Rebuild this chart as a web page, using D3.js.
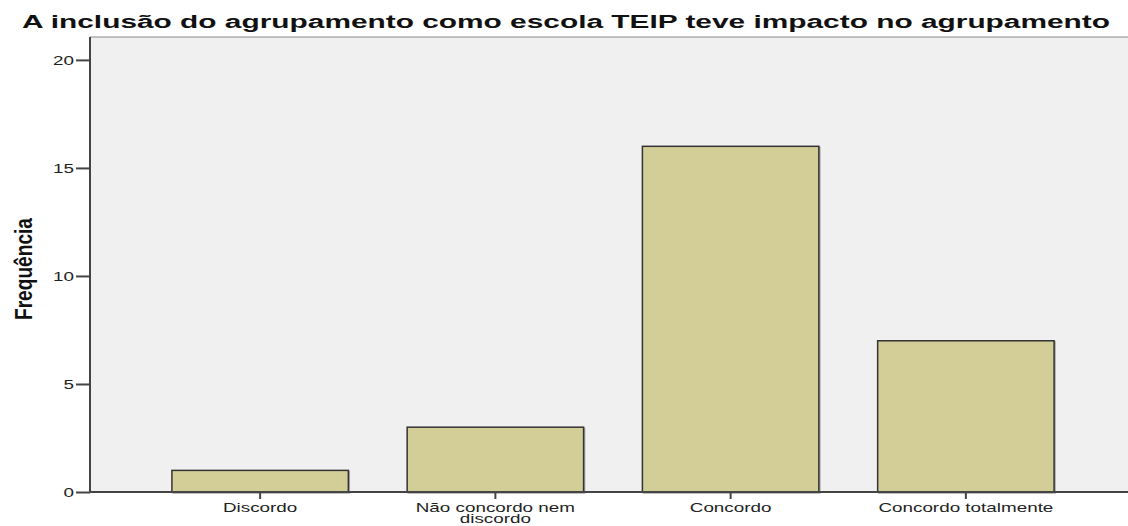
<!DOCTYPE html>
<html>
<head>
<meta charset="utf-8">
<script src="https://cdn.jsdelivr.net/npm/d3@7"></script>
<style>
  body { margin: 0; background: #fff; }
  text { font-family: "Liberation Sans", Arial, sans-serif; }
</style>
</head>
<body>
<svg id="chart" width="1128" height="526"></svg>
<script>
// Frequency of answers per category
var categories = ["Discordo", "Não concordo nem discordo", "Concordo", "Concordo totalmente"];
var counts = [1, 3, 16, 7];
var yTicks = [0, 5, 10, 15, 20];
var title = "A inclusão do agrupamento como escola TEIP teve impacto no agrupamento";

// the original export is stretched sideways, so texts get a horizontal scale
var SX = 1.45;

var svg = d3.select("#chart");
var mLeft = 90, mTop = 37, mRight = 1128, mBottom = 492;

var y = d3.scaleLinear().domain([0, 21.06]).range([mBottom, mTop]);
var x = d3.scaleBand().domain(categories).range([142.5, 1083.5]).padding(0.25).paddingOuter(0.125);

// plot background
svg.append("rect")
  .attr("x", mLeft).attr("y", mTop)
  .attr("width", mRight - mLeft).attr("height", mBottom - mTop)
  .attr("fill", "#f0f0f0");
svg.append("line")
  .attr("x1", mLeft).attr("x2", mRight).attr("y1", mTop).attr("y2", mTop)
  .attr("stroke", "#888").attr("stroke-width", 1);

// bars, with a soft shadow like the original
var bars = svg.append("g");
bars.selectAll("rect.shadow").data(counts).join("rect")
  .attr("class", "shadow")
  .attr("x", function (d, i) { return x(categories[i]) + 1; })
  .attr("y", function (d) { return y(d) + 1; })
  .attr("width", x.bandwidth())
  .attr("height", function (d) { return mBottom - y(d); })
  .attr("fill", "none").attr("stroke", "#aaa").attr("stroke-width", 1.5);
bars.selectAll("rect.bar").data(counts).join("rect")
  .attr("class", "bar")
  .attr("x", function (d, i) { return x(categories[i]); })
  .attr("y", function (d) { return y(d); })
  .attr("width", x.bandwidth())
  .attr("height", function (d) { return mBottom - y(d); })
  .attr("fill", "#d3ce97").attr("stroke", "#333").attr("stroke-width", 1.5);

// y axis
var yAxis = svg.append("g").attr("transform", "translate(" + mLeft + ",0)")
  .call(d3.axisLeft(y).tickValues(yTicks).tickSize(14));
yAxis.select(".domain").attr("d", "M0," + mTop + "V" + mBottom).attr("stroke", "#444").attr("stroke-width", 2);
yAxis.selectAll(".tick line").attr("stroke", "#444").attr("stroke-width", 2);
yAxis.selectAll(".tick text")
  .attr("x", 0).attr("dy", "0.36em")
  .attr("transform", "translate(-16,0) scale(" + SX + ",1)")
  .attr("font-size", 13).attr("fill", "#222")
  .attr("font-family", "Liberation Sans, Arial, sans-serif");

// x axis
var xAxis = svg.append("g").attr("transform", "translate(0," + mBottom + ")")
  .call(d3.axisBottom(x).tickSize(7));
xAxis.select(".domain").attr("d", "M" + mLeft + ",0H" + mRight).attr("stroke", "#444").attr("stroke-width", 2);
xAxis.selectAll(".tick line").attr("stroke", "#444").attr("stroke-width", 2);
xAxis.selectAll(".tick text").remove();
xAxis.selectAll(".tick").each(function (d) {
  var lines = d === "Não concordo nem discordo" ? ["Não concordo nem", "discordo"] : [d];
  var t = d3.select(this).append("text")
    .attr("transform", "scale(" + SX + ",1)")
    .attr("fill", "#222").attr("font-size", 13).attr("text-anchor", "middle")
    .attr("font-family", "Liberation Sans, Arial, sans-serif");
  lines.forEach(function (s, k) {
    t.append("tspan").attr("x", 0).attr("y", 20.5 + k * 11).text(s);
  });
});

// title
svg.append("text")
  .attr("x", 22).attr("y", 28)
  .attr("font-size", 18).attr("font-weight", "bold").attr("fill", "#111")
  .attr("textLength", 1088).attr("lengthAdjust", "spacingAndGlyphs")
  .text(title);

// y label
svg.append("text")
  .attr("transform", "translate(32,269) scale(" + SX + ",1) rotate(-90)")
  .attr("text-anchor", "middle")
  .attr("font-size", 17).attr("font-weight", "bold").attr("fill", "#111")
  .attr("font-family", "Liberation Sans Narrow, Arial Narrow, sans-serif")
  .attr("textLength", 102).attr("lengthAdjust", "spacingAndGlyphs")
  .text("Frequência");
</script>
</body>
</html>
